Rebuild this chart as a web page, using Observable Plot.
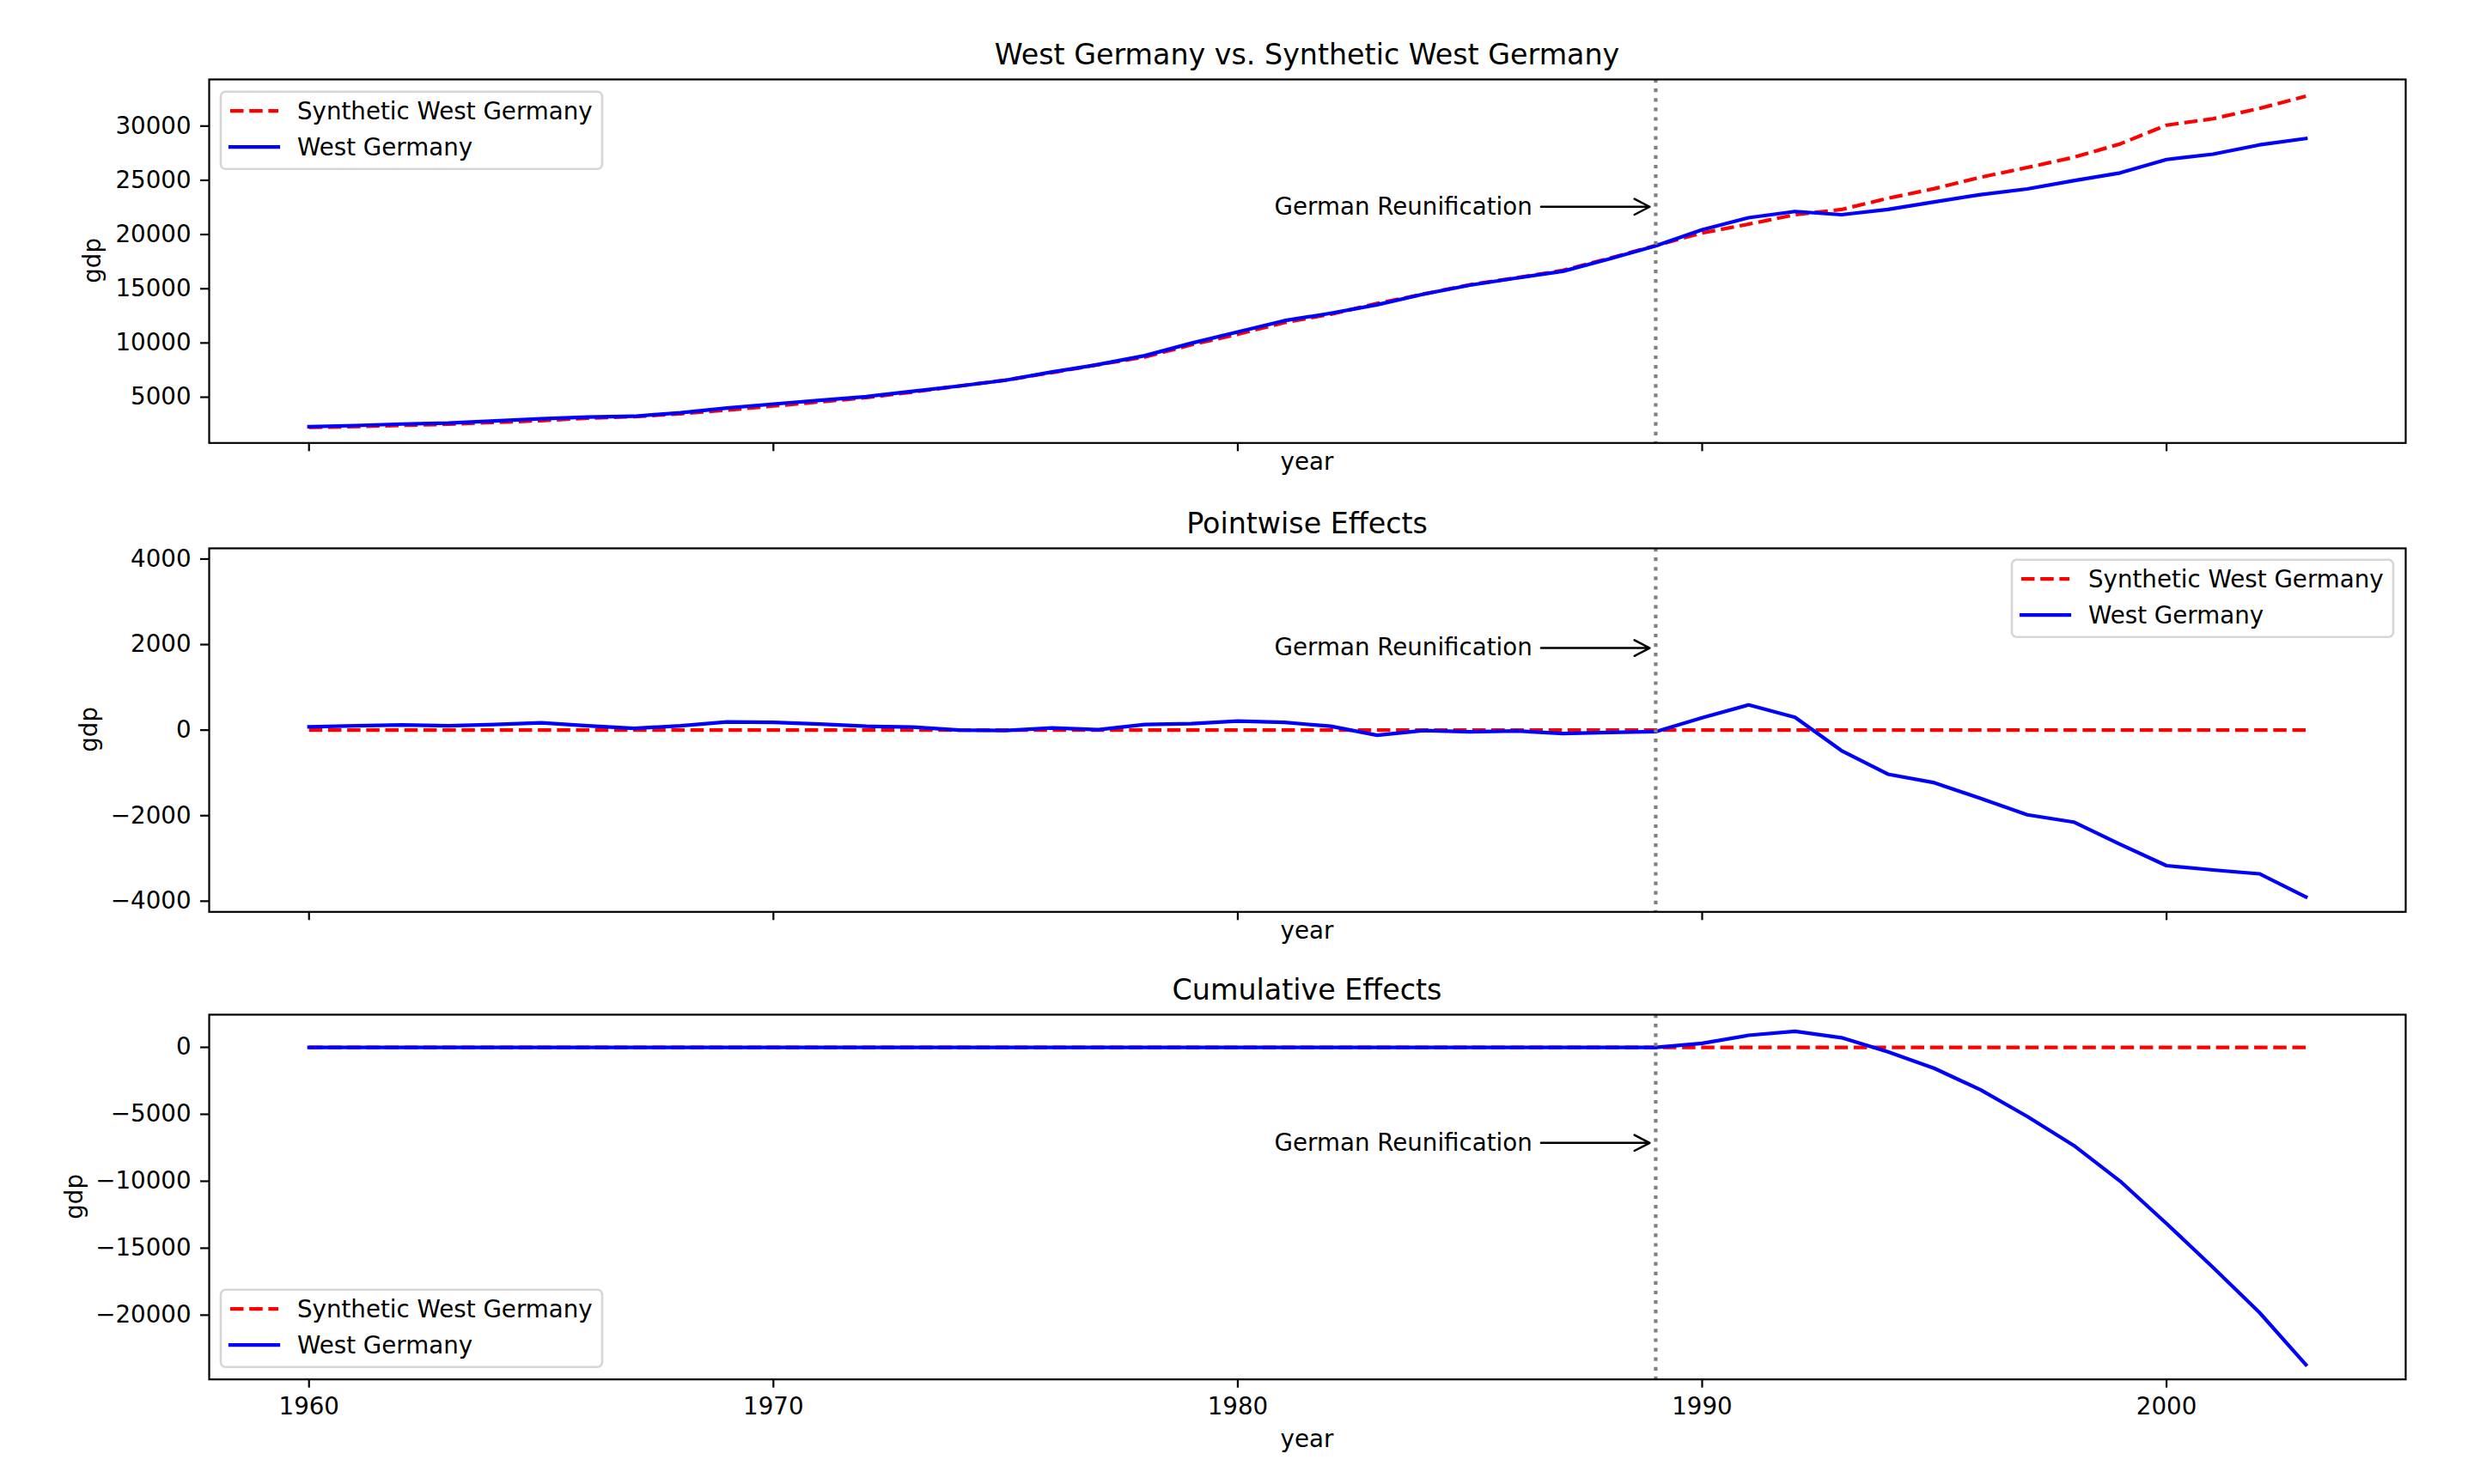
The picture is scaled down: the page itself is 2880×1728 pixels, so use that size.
<!DOCTYPE html>
<html>
<head>
<meta charset="utf-8">
<script src="https://cdn.jsdelivr.net/npm/d3@7"></script>
<script src="https://cdn.jsdelivr.net/npm/@observablehq/plot@0.6"></script>
<style>
html, body { margin: 0; padding: 0; background: #ffffff; }
#root { position: relative; width: 2880px; height: 1728px; overflow: hidden; font-family: "DejaVu Sans"; }
#root svg { position: absolute; left: 0; }
</style>
</head>
<body>
<div id="root"></div>
<script>
// ---------------- data ----------------
const years = [1960, 1961, 1962, 1963, 1964, 1965, 1966, 1967, 1968, 1969,
               1970, 1971, 1972, 1973, 1974, 1975, 1976, 1977, 1978, 1979,
               1980, 1981, 1982, 1983, 1984, 1985, 1986, 1987, 1988, 1989,
               1990, 1991, 1992, 1993, 1994, 1995, 1996, 1997, 1998, 1999,
               2000, 2001, 2002, 2003];

const westGermany = [2284, 2388, 2527, 2610, 2806, 3005, 3168, 3241, 3571, 3998,
                     4367, 4710, 5054, 5541, 6032, 6562, 7322, 8015, 8830, 9981,
                     11021, 12054, 12743, 13520, 14500, 15334, 15984, 16612, 17748, 18952,
                     20438, 21549, 22127, 21828, 22313, 23001, 23682, 24201, 24969, 25681,
                     26916, 27408, 28267, 28855];

const syntheticWestGermany = [2209, 2288, 2407, 2510, 2676, 2835, 3068, 3201, 3471, 3808,
                              4187, 4570, 4964, 5471, 6032, 6572, 7272, 8005, 8700, 9831,
                              10811, 11874, 12653, 13640, 14510, 15374, 16004, 16692, 17803, 18987,
                              20148, 20959, 21827, 22308, 23343, 24231, 25282, 26181, 27119, 28351,
                              30086, 30678, 31627, 32755];

const pointwiseEffect = [75, 100, 120, 100, 130, 170, 100, 40, 100, 190,
                         180, 140, 90, 70, 0, -10, 50, 10, 130, 150,
                         210, 180, 90, -120, -10, -40, -20, -80, -55, -35,
                         290, 590, 300, -480, -1030, -1230, -1600, -1980, -2150, -2670,
                         -3170, -3270, -3360, -3900];

const cumulativeEffect = [0, 0, 0, 0, 0, 0, 0, 0, 0, 0,
                          0, 0, 0, 0, 0, 0, 0, 0, 0, 0,
                          0, 0, 0, 0, 0, 0, 0, 0, 0, 0,
                          300, 900, 1200, 720, -330, -1570, -3180, -5160, -7320, -9990,
                          -13160, -16430, -19800, -23700];

const syntheticBaseline = [0, 0, 0, 0, 0, 0, 0, 0, 0, 0,
                           0, 0, 0, 0, 0, 0, 0, 0, 0, 0,
                           0, 0, 0, 0, 0, 0, 0, 0, 0, 0,
                           0, 0, 0, 0, 0, 0, 0, 0, 0, 0,
                           0, 0, 0, 0];

const yearTicks = [1960, 1970, 1980, 1990, 2000];
const gdpTicks = [5000, 10000, 15000, 20000, 25000, 30000];
const pointwiseTicks = [-4000, -2000, 0, 2000, 4000];
const cumulativeTicks = [-20000, -15000, -10000, -5000, 0];

const panelTitles = ["West Germany vs. Synthetic West Germany", "Pointwise Effects", "Cumulative Effects"];
const seriesNames = ["Synthetic West Germany", "West Germany"];
const annotationLabel = "German Reunification";
const reunificationYear = 1989;
const annotationY = [22560, 1920, -7135];

// ---------------- layout ----------------
const FS = 27.7;
const TFS = 33.3;
const frameLeft = 243, frameRight = 2800;
const xDomain = [1957.85, 2005.15];
const fmt = d3.format("d");
const root = document.getElementById("root");

const panels = [
  {top: 91.7, bottom: 515, domain: [780, 34300], ticks: gdpTicks, red: syntheticWestGermany, blue: westGermany,
   showX: false, gdpX: 117, yearY: 547, legend: {x: 257, y: 106.7}},
  {top: 637.7, bottom: 1061, domain: [-4250, 4250], ticks: pointwiseTicks, red: syntheticBaseline, blue: pointwiseEffect,
   showX: false, gdpX: 113, yearY: 1093, legend: {x: 2342, y: 651.7}},
  {top: 1181, bottom: 1605.7, domain: [-24800, 2440], ticks: cumulativeTicks, red: syntheticBaseline, blue: cumulativeEffect,
   showX: true, gdpX: 95.5, yearY: 1685, legend: {x: 257, y: 1501.7}}
];

const mT = 20, mB = 80;

panels.forEach((p, k) => {
  const rows = years.map((year, i) => ({year, red: p.red[i], blue: p.blue[i]}));
  const ann = [{tx: 1980.79, x1: 1986.53, x2: 1988.87, y: annotationY[k], label: annotationLabel}];
  const svg = Plot.plot({
    width: 2880,
    height: (p.bottom - p.top) + mT + mB,
    marginLeft: frameLeft,
    marginRight: 2880 - frameRight,
    marginTop: mT,
    marginBottom: mB,
    style: {background: "transparent", fontFamily: "DejaVu Sans", fontSize: FS + "px", color: "black", overflow: "visible"},
    x: {domain: xDomain},
    y: {domain: p.domain},
    marks: [
      Plot.axisY({ticks: p.ticks, tickSize: 10, tickPadding: 11, tickFormat: fmt, strokeWidth: 2.2, label: null, fontSize: FS}),
      Plot.axisX({ticks: yearTicks, tickSize: 10, tickPadding: 11,
                  tickFormat: p.showX ? (d => String(d)) : (() => ""),
                  strokeWidth: 2.2, label: null, fontSize: FS}),
      Plot.line(rows, {x: "year", y: "red", stroke: "#ff0000", strokeWidth: 4.2,
                       strokeDasharray: "15.5,6.7", strokeLinecap: "butt", strokeLinejoin: "round"}),
      Plot.line(rows, {x: "year", y: "blue", stroke: "#0000ff", strokeWidth: 4.2,
                       strokeLinecap: "square", strokeLinejoin: "round"}),
      Plot.ruleX([reunificationYear], {stroke: "#808080", strokeWidth: 4.2, strokeDasharray: "4.2,6.9", strokeLinecap: "butt"}),
      Plot.arrow(ann, {x1: "x1", y1: "y", x2: "x2", y2: "y", stroke: "black", strokeWidth: 2.5, headLength: 12, headAngle: 55}),
      Plot.text(ann, {x: "tx", y: "y", text: "label", textAnchor: "start", lineAnchor: "middle", fontSize: FS, fill: "black"}),
      Plot.frame({stroke: "black", strokeWidth: 2.2})
    ]
  });
  svg.style.top = (p.top - mT) + "px";
  root.appendChild(svg);
});

// ---------------- overlay: titles, axis labels, legends ----------------
const overlay = d3.select(root).append("svg")
  .attr("width", 2880).attr("height", 1728)
  .style("top", "0px").style("background", "none").style("pointer-events", "none")
  .style("font-family", "DejaVu Sans");

const cx = (frameLeft + frameRight) / 2;
panels.forEach((p, k) => {
  overlay.append("text").attr("x", cx).attr("y", p.top - 16.8)
    .attr("text-anchor", "middle").attr("font-size", TFS).attr("fill", "black")
    .text(panelTitles[k]);
  overlay.append("text").attr("x", cx).attr("y", p.yearY)
    .attr("text-anchor", "middle").attr("font-size", FS).attr("fill", "black")
    .text("year");
  overlay.append("text")
    .attr("transform", `translate(${p.gdpX},${(p.top + p.bottom) / 2}) rotate(-90)`)
    .attr("text-anchor", "middle").attr("font-size", FS).attr("fill", "black")
    .text("gdp");

  const g = overlay.append("g").attr("transform", `translate(${p.legend.x},${p.legend.y})`);
  g.append("rect").attr("x", 0).attr("y", 0).attr("width", 444).attr("height", 90).attr("rx", 5.6)
    .attr("fill", "white").attr("fill-opacity", 0.8)
    .attr("stroke", "#cccccc").attr("stroke-opacity", 0.8).attr("stroke-width", 2.6);
  const entries = [
    {name: seriesNames[0], color: "#ff0000", dash: "15.5,6.7", y: 22.5},
    {name: seriesNames[1], color: "#0000ff", dash: null, y: 64.5}
  ];
  entries.forEach(e => {
    const l = g.append("line").attr("x1", 11).attr("x2", 67).attr("y1", e.y).attr("y2", e.y)
      .attr("stroke", e.color).attr("stroke-width", 4.2).attr("stroke-linecap", e.dash ? "butt" : "square");
    if (e.dash) l.attr("stroke-dasharray", e.dash);
    g.append("text").attr("x", 89).attr("y", e.y + 9.8).attr("font-size", FS).attr("fill", "black").text(e.name);
  });
});
</script>
</body>
</html>
